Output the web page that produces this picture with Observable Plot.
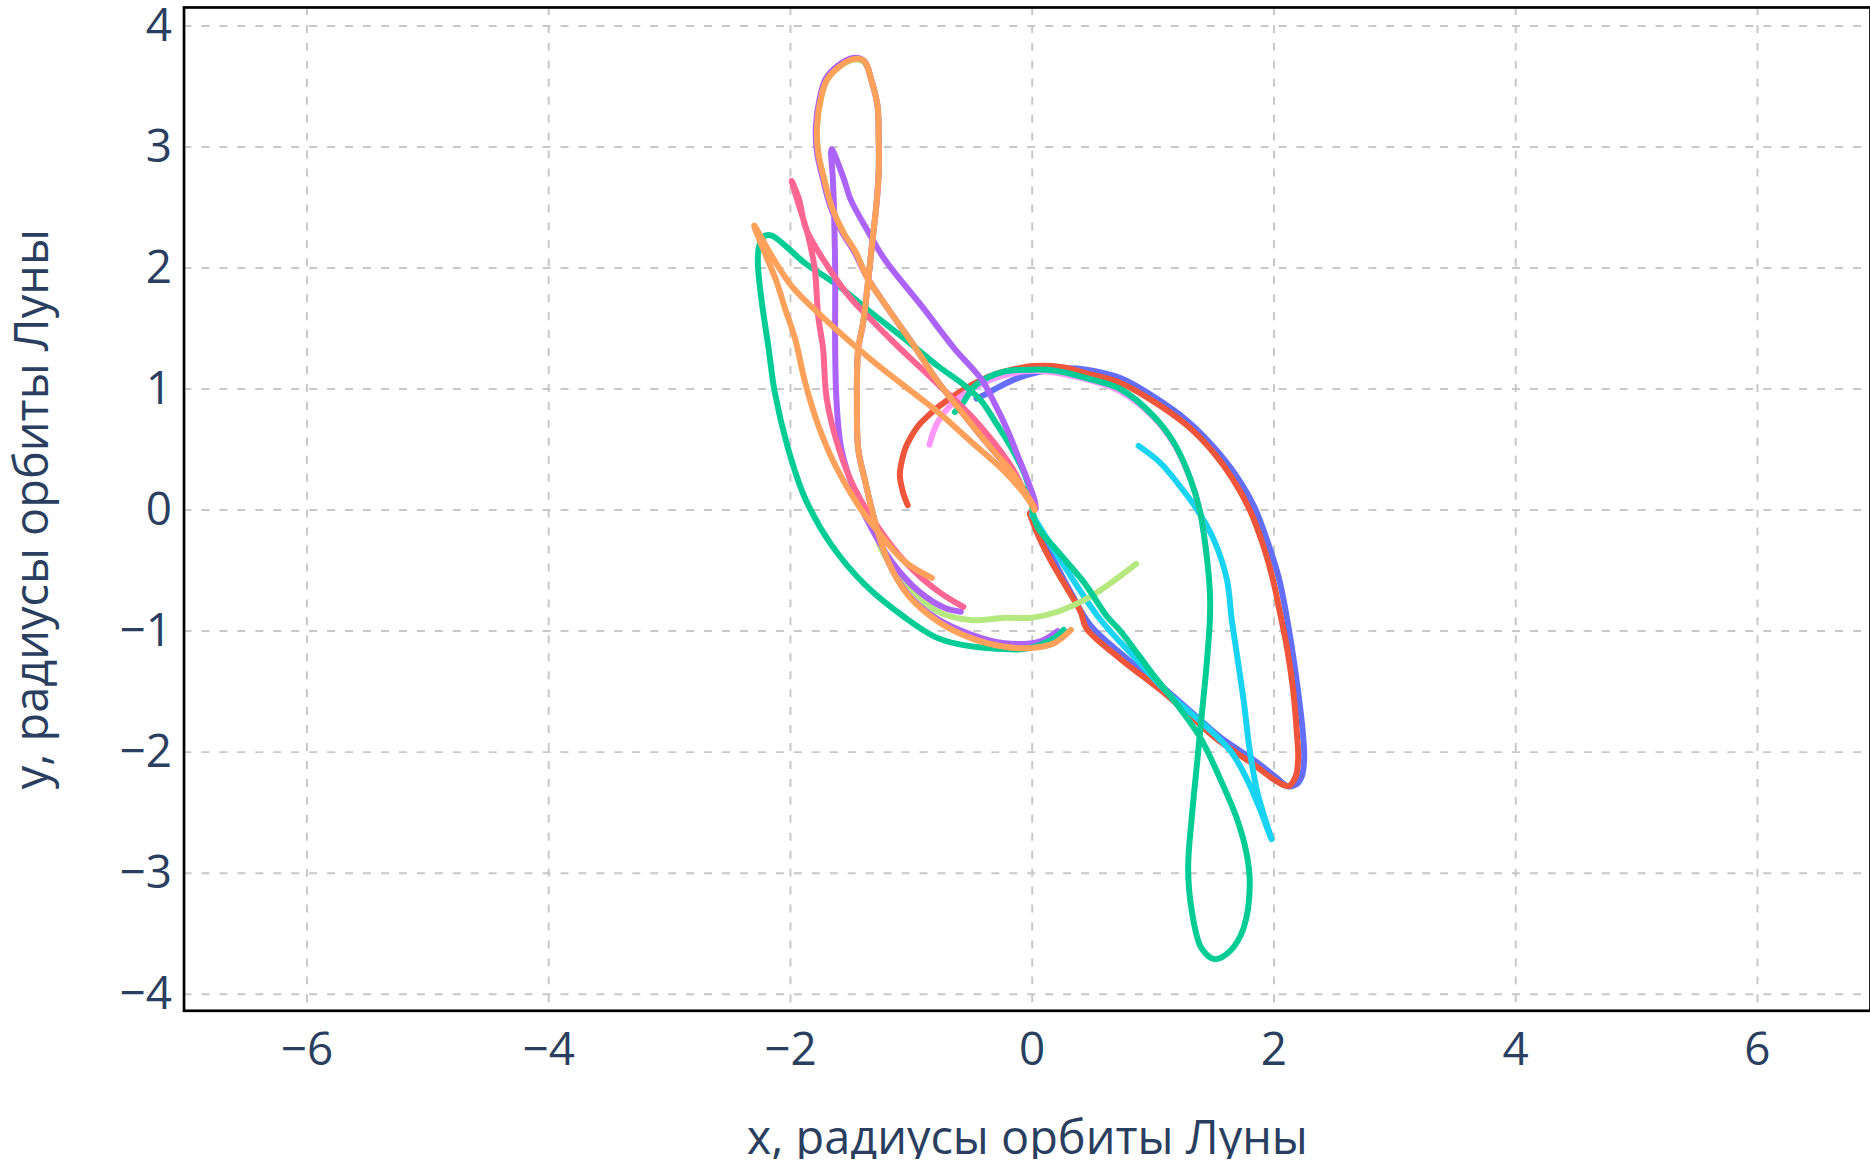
<!DOCTYPE html>
<html><head><meta charset="utf-8">
<script src="https://cdn.jsdelivr.net/npm/d3@7"></script>
<script src="https://cdn.jsdelivr.net/npm/@observablehq/plot@0.6"></script>
<style>html,body{margin:0;padding:0;background:#fff;overflow:hidden;} #chart svg{display:block}</style>
</head><body><div id="chart"></div>
<script>
const xTicks = [-6, -4, -2, 0, 2, 4, 6];
const yTicks = [-4, -3, -2, -1, 0, 1, 2, 3, 4];
const xTitle = "x, радиусы орбиты Луны";
const yTitle = "y, радиусы орбиты Луны";
const colors = {blue:"#636efa", red:"#EF553B", green:"#00cc96", purple:"#ab63fa", orange:"#FFA15A", cyan:"#19d3f3", pink:"#FF6692", lightgreen:"#B6E880", lightpink:"#FF97FF"};

const blueX = [-0.46,-0.38,-0.27,-0.12,0.05,0.25,0.45,0.73,1.00,1.28,1.51,1.69,1.84,1.95,2.04,2.10,2.15,2.20,2.24,2.25,2.23,2.18,2.11,2.02,1.84,1.56,1.34,1.10,0.75,0.48,0.33,0.12,0.00];
const blueY = [0.92,0.96,1.02,1.09,1.14,1.17,1.16,1.09,0.94,0.74,0.51,0.28,0.02,-0.27,-0.56,-0.85,-1.15,-1.50,-1.85,-2.05,-2.20,-2.27,-2.28,-2.21,-2.07,-1.88,-1.69,-1.48,-1.20,-0.95,-0.70,-0.30,-0.05];

const redX = [-1.03,-1.07,-1.095,-1.08,-1.05,-1.00,-0.94,-0.86,-0.78,-0.67,-0.56,-0.45,-0.34,-0.17,0.02,0.25,0.45,0.73,1.00,1.28,1.50,1.66,1.80,1.91,1.99,2.05,2.11,2.16,2.19,2.20,2.18,2.12,2.02,1.83,1.55,1.33,1.09,0.73,0.45,0.40,0.29,0.16,0.05,-0.02];
const redY = [0.04,0.15,0.29,0.40,0.51,0.61,0.70,0.78,0.85,0.93,1.00,1.06,1.11,1.16,1.19,1.18,1.13,1.05,0.90,0.70,0.475,0.255,0.00,-0.29,-0.57,-0.85,-1.15,-1.50,-1.85,-2.05,-2.20,-2.28,-2.24,-2.10,-1.91,-1.72,-1.51,-1.23,-0.98,-0.84,-0.65,-0.43,-0.21,-0.03];

const cyanX = [0.00,0.05,0.27,0.56,0.86,1.14,1.42,1.64,1.77,1.88,1.98,1.91,1.86,1.80,1.75,1.69,1.65,1.61,1.50,1.36,1.22,1.06,0.88];
const cyanY = [-0.04,-0.12,-0.47,-0.90,-1.23,-1.53,-1.77,-1.99,-2.21,-2.46,-2.72,-2.50,-2.32,-1.99,-1.58,-1.17,-0.90,-0.57,-0.24,0.01,0.20,0.39,0.53];

const lightgreenX = [0.02,-0.04,-0.15,-0.34,-0.56,-0.78,-0.96,-1.19,-1.37,-1.46,-1.56,-1.66,-1.72,-1.77,-1.78,-1.75,-1.70,-1.60,-1.48,-1.39,-1.33,-1.28,-1.27,-1.27,-1.29,-1.32,-1.35,-1.40,-1.44,-1.45,-1.45,-1.44,-1.38,-1.30,-1.25,-1.00,-0.78,-0.50,-0.23,-0.01,0.21,0.49,0.86];
const lightgreenY = [0.01,0.12,0.29,0.51,0.78,1.06,1.33,1.66,1.93,2.13,2.29,2.51,2.73,2.95,3.17,3.39,3.55,3.66,3.72,3.70,3.55,3.34,3.06,2.79,2.51,2.24,1.96,1.54,1.33,1.06,0.92,0.51,0.23,-0.10,-0.32,-0.65,-0.84,-0.91,-0.89,-0.89,-0.84,-0.71,-0.445];

const purple2X = [0.02,-0.04,-0.15,-0.34,-0.56,-0.78,-0.96,-1.19,-1.37,-1.47,-1.57,-1.67,-1.73,-1.78,-1.79,-1.76,-1.71,-1.61,-1.48,-1.39,-1.33,-1.28,-1.27,-1.27,-1.29,-1.32,-1.35,-1.40,-1.44,-1.45,-1.45,-1.44,-1.38,-1.30,-1.19,-1.03,-0.80,-0.50,-0.23,0.05,0.21];
const purple2Y = [0.01,0.12,0.29,0.51,0.78,1.06,1.33,1.66,1.93,2.13,2.29,2.51,2.73,2.95,3.17,3.39,3.56,3.67,3.735,3.71,3.55,3.34,3.06,2.79,2.51,2.24,1.96,1.54,1.33,1.06,0.92,0.51,0.23,-0.10,-0.43,-0.69,-0.89,-1.03,-1.10,-1.09,-1.00];

const lightpinkX = [-0.85,-0.82,-0.78,-0.67,-0.50,-0.28,0.00,0.45,0.73,1.00,1.17,1.31,1.39,1.44];
const lightpinkY = [0.54,0.64,0.73,0.87,1.00,1.10,1.15,1.08,0.98,0.77,0.55,0.25,-0.02,-0.35];

const greenX = [0.26,0.18,0.05,-0.09,-0.37,-0.60,-0.80,-1.05,-1.38,-1.66,-1.88,-2.02,-2.13,-2.18,-2.24,-2.27,-2.26,-2.22,-2.16,-1.88,-1.60,-1.33,-1.05,-0.78,-0.56,-0.42,-0.30,-0.17,-0.06,-0.01,0.00,0.01,0.05,0.21,0.43,0.62,0.73,1.00,1.20,1.39,1.55,1.69,1.77,1.80,1.75,1.64,1.51,1.40,1.32,1.29,1.32,1.36,1.40,1.44,1.47,1.47,1.44,1.39,1.31,1.17,1.00,0.73,0.45,0.20,0.00,-0.25,-0.47,-0.58,-0.64];
const greenY = [-0.99,-1.06,-1.12,-1.15,-1.14,-1.11,-1.05,-0.89,-0.62,-0.29,0.10,0.51,0.975,1.33,1.74,2.05,2.18,2.26,2.27,2.04,1.85,1.63,1.41,1.19,1.03,0.90,0.72,0.51,0.29,0.12,0.02,-0.04,-0.15,-0.34,-0.60,-0.88,-1.00,-1.36,-1.61,-1.88,-2.21,-2.54,-2.82,-3.09,-3.45,-3.64,-3.71,-3.62,-3.31,-2.96,-2.54,-2.13,-1.72,-1.31,-0.90,-0.68,-0.35,-0.02,0.255,0.56,0.78,1.00,1.09,1.15,1.16,1.14,1.03,0.875,0.81];

const purpleX = [0.03,0.02,-0.04,-0.12,-0.20,-0.31,-0.42,-0.64,-0.91,-1.22,-1.38,-1.50,-1.56,-1.66,-1.65,-1.64,-1.63,-1.63,-1.62,-1.58,-1.47,-1.33,-1.16,-0.94,-0.72,-0.59];
const purpleY = [0.01,0.08,0.25,0.45,0.65,0.88,1.08,1.33,1.68,2.07,2.34,2.56,2.74,2.98,2.75,2.51,1.96,1.33,0.92,0.51,0.15,-0.15,-0.43,-0.67,-0.81,-0.84];

const pinkX = [0.02,-0.06,-0.18,-0.48,-0.77,-0.95,-1.14,-1.33,-1.51,-1.69,-1.87,-1.93,-1.99,-1.94,-1.86,-1.80,-1.77,-1.73,-1.70,-1.60,-1.47,-1.27,-1.05,-0.78,-0.57];
const pinkY = [0.03,0.15,0.37,0.75,1.03,1.20,1.38,1.57,1.76,2.01,2.32,2.57,2.72,2.55,2.29,2.00,1.60,1.33,0.92,0.51,0.18,-0.15,-0.43,-0.67,-0.80];

const orange2X = [0.02,-0.04,-0.23,-0.50,-0.78,-1.05,-1.33,-1.74,-1.99,-2.15,-2.30,-2.21,-2.12,-2.04,-1.96,-1.88,-1.77,-1.63,-1.44,-1.25,-1.05,-0.83];
const orange2Y = [0.00,0.10,0.32,0.56,0.81,1.02,1.24,1.60,1.85,2.09,2.35,2.12,1.90,1.65,1.41,1.06,0.70,0.37,0.04,-0.21,-0.43,-0.56];

const orange1X = [0.02,-0.04,-0.15,-0.34,-0.56,-0.78,-0.96,-1.19,-1.37,-1.46,-1.56,-1.66,-1.72,-1.77,-1.78,-1.75,-1.70,-1.60,-1.48,-1.39,-1.33,-1.28,-1.27,-1.27,-1.29,-1.32,-1.35,-1.40,-1.44,-1.45,-1.45,-1.44,-1.38,-1.30,-1.19,-1.03,-0.78,-0.50,-0.23,-0.01,0.18,0.32];
const orange1Y = [0.01,0.12,0.29,0.51,0.78,1.06,1.33,1.66,1.93,2.13,2.29,2.51,2.73,2.95,3.17,3.39,3.55,3.66,3.725,3.71,3.55,3.34,3.06,2.79,2.51,2.24,1.96,1.54,1.33,1.06,0.92,0.51,0.23,-0.10,-0.43,-0.70,-0.92,-1.06,-1.13,-1.14,-1.10,-0.99];

const rows = (xs, ys) => xs.map((x, i) => ({x, y: ys[i]}));
const traj = (xs, ys, color) => Plot.line(rows(xs, ys), {x: "x", y: "y", stroke: color, strokeWidth: 6, curve: "catmull-rom", strokeLinejoin: "round"});
const fmt = d => d < 0 ? "\u2212" + Math.abs(d) : String(d);

const ink = "#2a3f5f";
const chart = Plot.plot({
  width: 1875, height: 1162,
  marginLeft: 184, marginRight: 0, marginTop: 7, marginBottom: 149,
  style: {fontFamily: "'Open Sans', sans-serif", background: "#fff", color: ink},
  x: {domain: [-7.017, 6.935], ticks: xTicks},
  y: {domain: [-4.137, 4.152], ticks: yTicks},
  marks: [
    Plot.gridX(xTicks, {stroke: "#c8c8c8", strokeOpacity: 1, strokeWidth: 2, strokeDasharray: "8,10"}),
    Plot.gridY(yTicks, {stroke: "#c8c8c8", strokeOpacity: 1, strokeWidth: 2, strokeDasharray: "8,10"}),
    traj(blueX, blueY, colors.blue),
    traj(redX, redY, colors.red),
    traj(cyanX, cyanY, colors.cyan),
    traj(lightgreenX, lightgreenY, colors.lightgreen),
    traj(purple2X, purple2Y, colors.purple),
    traj(lightpinkX, lightpinkY, colors.lightpink),
    traj(greenX, greenY, colors.green),
    traj(purpleX, purpleY, colors.purple),
    traj(pinkX, pinkY, colors.pink),
    traj(orange2X, orange2Y, colors.orange),
    traj(orange1X, orange1Y, colors.orange),
    Plot.frame({stroke: "#000", strokeWidth: 2.7}),
    Plot.axisX(xTicks, {tickSize: 0, tickPadding: 22, fontSize: 46, color: ink, label: null, tickFormat: fmt}),
    Plot.axisY(yTicks, {tickSize: 0, tickPadding: 12, fontSize: 46, color: ink, label: null, tickFormat: fmt}),
    Plot.text([xTitle], {text: d => d, frameAnchor: "bottom", dy: 144, fontSize: 47, fill: ink}),
    Plot.text([yTitle], {text: d => d, frameAnchor: "left", textAnchor: "middle", dx: -151, rotate: -90, fontSize: 47, fill: ink})
  ]
});
document.getElementById("chart").appendChild(chart);
</script>
</body></html>
